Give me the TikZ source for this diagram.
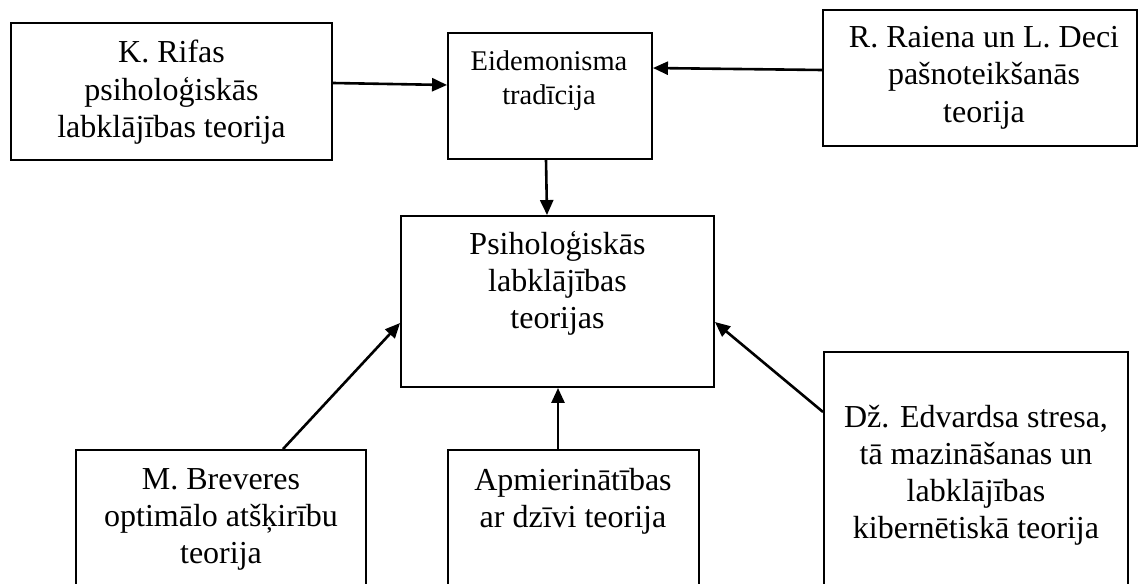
\documentclass[tikz,border=0pt]{standalone}
\usepackage{fontspec}
\setmainfont{Liberation Serif}
\usetikzlibrary{arrows.meta,calc}
\begin{document}
\begin{tikzpicture}[x=1pt,y=-1pt,
  box/.style={draw,line width=1.9pt,inner sep=0pt},
  txt/.style={font=\fontsize{32}{37}\selectfont,align=center,anchor=base,inner sep=0pt},
  smalltxt/.style={font=\fontsize{28.5}{34}\selectfont},
  link/.style={line width=2.6pt,-{Triangle[length=15pt,width=13pt]}}
]
\useasboundingbox (0,0) rectangle (1139,583);
\clip (0,0) rectangle (1139,583);

% boxes
\node[box,minimum width=321pt,minimum height=137pt] (rifas)  at (171.5,91.5) {};
\node[box,minimum width=204pt,minimum height=126pt] (eid)    at (550,96) {};
\node[box,minimum width=314pt,minimum height=136pt] (raiena) at (980,78) {};
\node[box,minimum width=313pt,minimum height=171pt] (psih)   at (557.5,301.5) {};
\node[box,minimum width=290pt,minimum height=150pt] (brev)   at (221,525) {};
\node[box,minimum width=251pt,minimum height=150pt] (apm)    at (573.5,525) {};
\node[box,minimum width=304pt,minimum height=248pt] (edv)    at (976,476) {};

% box texts, placed by the baseline of their last line
\node[txt] (rifasT)  at (171.5,137) {K. Rifas\\psiholoģiskās\\labklājības teorija};
\node[txt,smalltxt] (eidT) at (549,105) {Eidemonisma\\tradīcija};
\node[txt] (raienaT) at (984,122) {R. Raiena un L. Deci\\pašnoteikšanās\\teorija};
\node[txt] (psihT)   at (557.5,328) {Psiholoģiskās\\labklājības\\teorijas};
\node[txt] (brevT)   at (221,563) {M. Breveres\\optimālo atšķirību\\teorija};
\node[txt] (apmT)    at (573,527) {Apmierinātības\\ar dzīvi teorija};
\node[txt] (edvT)    at (976,538) {Dž. Edvardsa stresa,\\tā mazināšanas un\\labklājības\\kibernētiskā teorija};

% connectors
\draw[link] ($(rifas.east)+(0,-8.5)$) -- ($(eid.west)+(0,-11)$);
\draw[link] ($(raiena.west)+(0,-8)$) -- ($(eid.east)+(0,-28)$);
\draw[link] ($(eid.south)+(-4,0)$) -- ($(psih.north)+(-10.5,0)$);
\draw[link] ($(apm.north)+(-15.5,0)$) -- ($(psih.south)+(0.5,0)$);
\draw[link] ($(brev.north)+(62,0)$) -- ($(psih.west)+(0,21.5)$);
\draw[link] ($(edv.west)+(0,-64)$) -- ($(psih.east)+(0,20.5)$);
\end{tikzpicture}
\end{document}
